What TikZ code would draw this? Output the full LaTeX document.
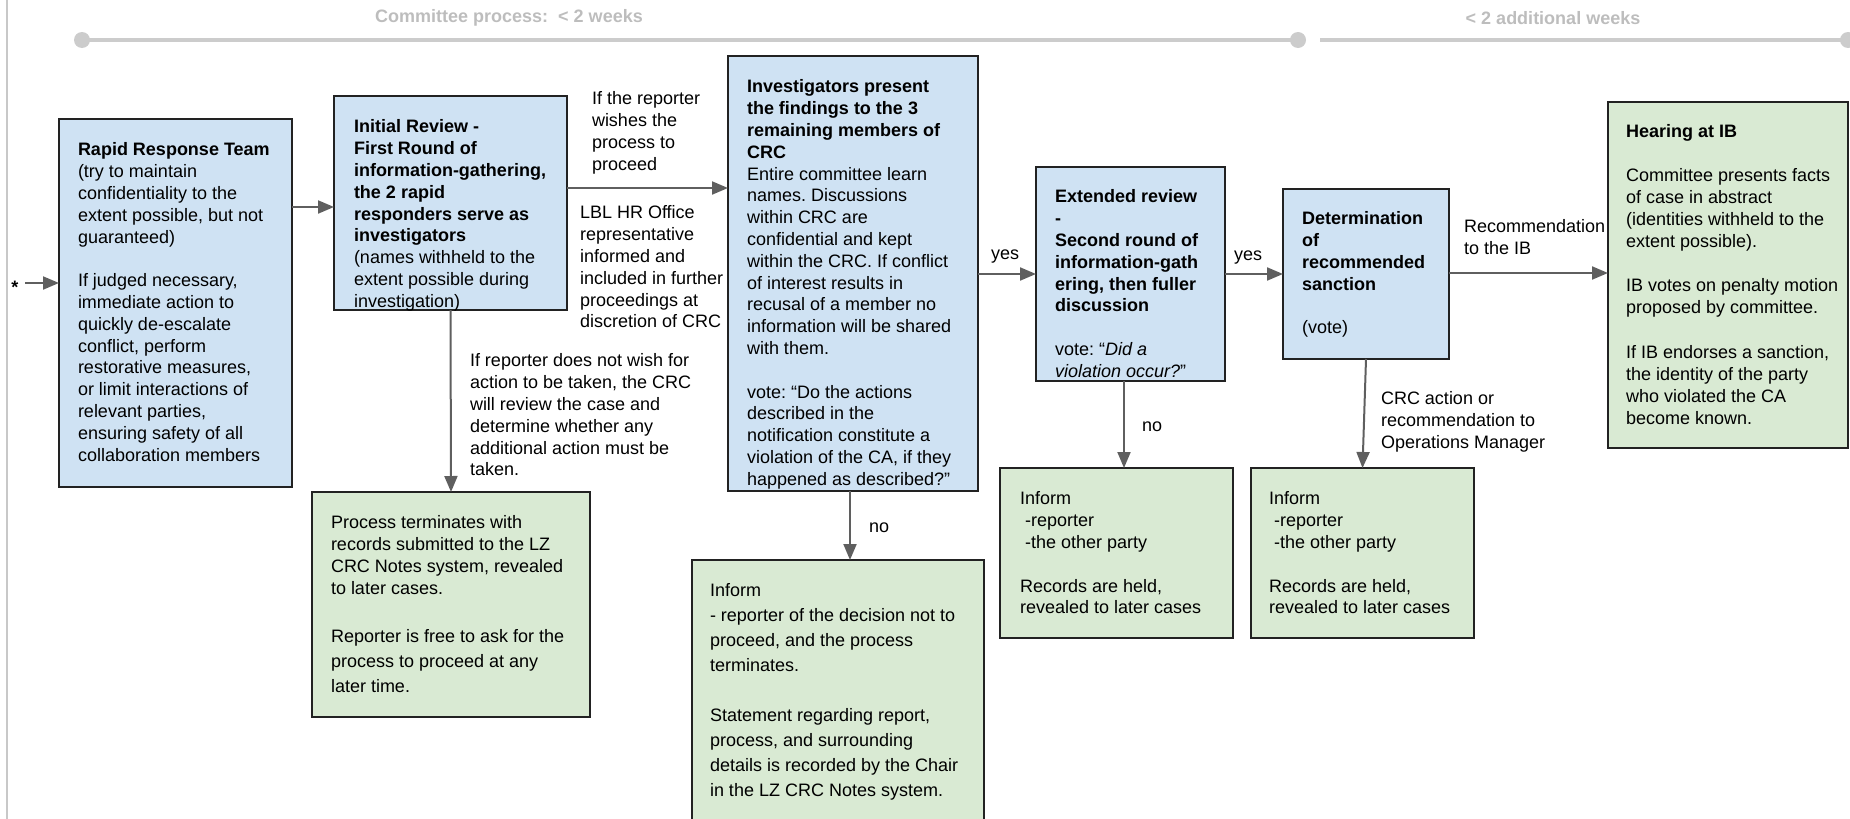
\documentclass[tikz,border=0pt]{standalone}
\usepackage{fontspec}
\setmainfont{Liberation Sans}
\usetikzlibrary{arrows.meta}
\frenchspacing
\definecolor{boxblue}{HTML}{CFE2F3}
\definecolor{boxgreen}{HTML}{D9EAD3}
\definecolor{boxline}{HTML}{222222}
\definecolor{arrgray}{HTML}{5F5F5F}
\definecolor{tlgray}{HTML}{CCCCCC}
\definecolor{tltext}{HTML}{BDBDBD}
\definecolor{framegray}{HTML}{C8C8C8}
\begin{document}
\begin{tikzpicture}[x=1pt,y=-1pt,
  box/.style={draw=boxline, line width=1.8pt, anchor=north west, inner sep=0pt, outer sep=0pt},
  bluebox/.style={box, fill=boxblue},
  greenbox/.style={box, fill=boxgreen},
  txt/.style={anchor=north west, inner sep=0pt, outer sep=0pt, align=left, font=\fontsize{18}{21.8}\selectfont},
  txtwide/.style={txt, font=\fontsize{18}{25}\selectfont},
  tltxt/.style={inner sep=0pt, text=tltext, font=\fontsize{18}{21.8}\selectfont\bfseries},
  tl/.style={draw=tlgray, line width=4pt},
  arr/.style={draw=arrgray, line width=2pt, -{Triangle[length=16pt,width=13pt]}},
  ]
\useasboundingbox (0,0) rectangle (1850,819);
\clip (0,0) rectangle (1850,819);

% frame line
\coordinate (fa) at (7,0);
\coordinate (fb) at (7,819);
\draw[framegray, line width=2.5pt] (fa) -- (fb);

% timeline
\coordinate (tla) at (82,40);
\coordinate (tlb) at (1298,40);
\coordinate (tlc) at (1320,40);
\coordinate (tld) at (1848,40);
\draw[tl] (tla) -- (tlb);
\draw[tl] (tlc) -- (tld);
\fill[tlgray] (tla) circle[radius=8pt];
\fill[tlgray] (tlb) circle[radius=8pt];
\fill[tlgray] (tld) circle[radius=8pt];
\node[tltxt] (tl1t) at (509,18) {Committee process:\ \ < 2 weeks};
\node[tltxt] (tl2t) at (1553,18) {< 2 additional weeks};

% boxes
\node[bluebox, minimum width=233pt, minimum height=368pt] (rrt) at (59,119) {};
\node[bluebox, minimum width=233pt, minimum height=214pt] (ir) at (334,96) {};
\node[bluebox, minimum width=250pt, minimum height=435pt] (inv) at (728,56) {};
\node[bluebox, minimum width=189pt, minimum height=214pt] (ext) at (1036,167) {};
\node[bluebox, minimum width=166pt, minimum height=170pt] (det) at (1283,189) {};
\node[greenbox, minimum width=240pt, minimum height=346pt] (ib) at (1608,102) {};
\node[greenbox, minimum width=278pt, minimum height=225pt] (g1) at (312,492) {};
\node[greenbox, minimum width=292pt, minimum height=290pt] (g2) at (692,560) {};
\node[greenbox, minimum width=233pt, minimum height=170pt] (g3) at (1000,468) {};
\node[greenbox, minimum width=223pt, minimum height=170pt] (g4) at (1251,468) {};

% connectors
\coordinate (star0) at (25,283);
\node[inner sep=0pt, font=\fontsize{18}{21.8}\selectfont\bfseries] (star) at (15,287) {*};
\draw[arr] (star0) -- (star0 -| rrt.west);
\draw[arr] (rrt.east |- 0,207) -- (ir.west |- 0,207);
\draw[arr] (ir.east |- 0,188) -- (inv.west |- 0,188);
\draw[arr] (ir.south) -- (g1.north);
\draw[arr] (inv.south -| 850,0) -- (g2.north -| 850,0);
\draw[arr] (inv.east |- 0,274) -- (ext.west |- 0,274);
\draw[arr] (ext.east |- 0,274) -- (det.west |- 0,274);
\draw[arr] (det.east |- 0,273) -- (ib.west |- 0,273);
\draw[arr] (ext.south -| 1124,0) -- (g3.north -| 1124,0);
\draw[arr] (det.south) -- (g4.north);

% box texts
\node[txt] (rrtT) at ([shift={(19,21.7)}]rrt.north west) {\strut\textbf{Rapid Response Team}\\
(try to maintain\\
confidentiality to the\\
extent possible, but not\\
guaranteed)\\[21.8pt]
If judged necessary,\\
immediate action to\\
quickly de-escalate\\
conflict, perform\\
restorative measures,\\
or limit interactions of\\
relevant parties,\\
ensuring safety of all\\
collaboration members};

\node[txt] (irT) at ([shift={(20,21.7)}]ir.north west) {\strut\textbf{Initial Review -}\\
\textbf{First Round of}\\
\textbf{information-gathering,}\\
\textbf{the 2 rapid}\\
\textbf{responders serve as}\\
\textbf{investigators}\\
(names withheld to the\\
extent possible during\\
investigation)};

\node[txt] (invT) at ([shift={(19,21.7)}]inv.north west) {\strut\textbf{Investigators present}\\
\textbf{the findings to the 3}\\
\textbf{remaining members of}\\
\textbf{CRC}\\
Entire committee learn\\
names. Discussions\\
within CRC are\\
confidential and kept\\
within the CRC. If conflict\\
of interest results in\\
recusal of a member no\\
information will be shared\\
with them.\\[21.8pt]
vote: “Do the actions\\
described in the\\
notification constitute a\\
violation of the CA, if they\\
happened as described?"};

\node[txt] (extT) at ([shift={(19,20.7)}]ext.north west) {\strut\textbf{Extended review}\\
\textbf{-}\\
\textbf{Second round of}\\
\textbf{information-gath}\\
\textbf{ering, then fuller}\\
\textbf{discussion}\\[21.8pt]
vote: “\textit{Did a}\\
\textit{violation occur?}"};

\node[txt] (detT) at ([shift={(19,20.7)}]det.north west) {\strut\textbf{Determination}\\
\textbf{of}\\
\textbf{recommended}\\
\textbf{sanction}\\[21.8pt]
(vote)};

\node[txt, font=\fontsize{18}{22.1}\selectfont] (ibT) at ([shift={(18,19.7)}]ib.north west) {\strut\textbf{Hearing at IB}\\[22.1pt]
Committee presents facts\\
of case in abstract\\
(identities withheld to the\\
extent possible).\\[22.1pt]
IB votes on penalty motion\\
proposed by committee.\\[22.1pt]
If IB endorses a sanction,\\
the identity of the party\\
who violated the CA\\
become known.};

\node[txt] (g1T) at ([shift={(19,21.7)}]g1.north west) {\strut Process terminates with\\
records submitted to the LZ\\
CRC Notes system, revealed\\
to later cases.\\[26pt]
Reporter is free to ask for the\\[3.2pt]
process to proceed at any\\[3.2pt]
later time.};

\node[txtwide] (g2T) at ([shift={(18,18.5)}]g2.north west) {\strut Inform\\
- reporter of the decision not to\\
proceed, and the process\\
terminates.\\[25pt]
Statement regarding report,\\
process, and surrounding\\
details is recorded by the Chair\\
in the LZ CRC Notes system.};

\node[txt] (g3T) at ([shift={(20,21.7)}]g3.north west) {\strut Inform\\
\ -reporter\\
\ -the other party\\[21.8pt]
Records are held,\\
revealed to later cases};

\node[txt] (g4T) at ([shift={(18,21.7)}]g4.north west) {\strut Inform\\
\ -reporter\\
\ -the other party\\[21.8pt]
Records are held,\\
revealed to later cases};

% connector labels
\node[txt] (lab1) at (592,89.7) {\strut If the reporter\\wishes the\\process to\\proceed};
\node[txt] (lab2) at (580,203.7) {\strut LBL HR Office\\representative\\informed and\\included in further\\proceedings at\\discretion of CRC};
\node[txt] (lab3) at (470,351.7) {\strut If reporter does not wish for\\action to be taken, the CRC\\will review the case and\\determine whether any\\additional action must be\\taken.};
\node[txt] (lab4) at (869,517.7) {\strut no};
\node[txt] (lab5) at (991,244.7) {\strut yes};
\node[txt] (lab6) at (1234,245.7) {\strut yes};
\node[txt] (lab7) at (1464,217.7) {\strut Recommendation\\to the IB};
\node[txt] (lab8) at (1142,416.7) {\strut no};
\node[txt] (lab9) at (1381,389.7) {\strut CRC action or\\recommendation to\\Operations Manager};
\end{tikzpicture}
\end{document}
